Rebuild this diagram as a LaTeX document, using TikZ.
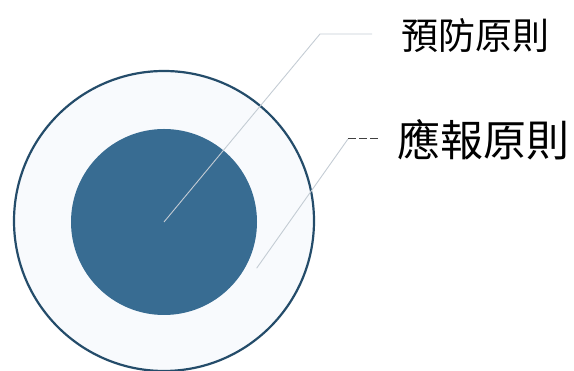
\documentclass[tikz,border=0pt]{standalone}
\usepackage{fontspec}
\newfontfamily\cjk{Noto Sans CJK TC}
\usepackage{tikz}
\usetikzlibrary{positioning, calc}
\definecolor{coreblue}{RGB}{56,108,146}
\definecolor{ringline}{RGB}{36,76,106}
\definecolor{ringfill}{RGB}{248,250,253}
\definecolor{leader}{RGB}{196,204,212}
\tikzset{
    ring/.style={circle, draw=ringline, line width=2.2pt, fill=ringfill, minimum size=300pt, inner sep=0pt},
    core/.style={circle, fill=coreblue, minimum size=186pt, inner sep=0pt},
    leaderline/.style={draw=leader, line width=0.9pt},
    principle/.style={font=\cjk, inner sep=0pt, text=black}
}
\begin{document}
\begin{tikzpicture}[x=1pt, y=1pt]
    \useasboundingbox (0,0) rectangle (574,371);
    \node[ring] (outer) at (164,150) {};
    \node[core] (inner) at (164,149) {};
    \coordinate (k1) at (320,337);
    \coordinate (e1) at (372,337);
    \coordinate (s2) at ($(outer.center)+(-27:104pt)$);
    \coordinate (k2) at (348,232);
    \coordinate (e2) at (380,232);
    \node[principle, font=\cjk\fontsize{37}{37}\selectfont] (prev) at (475,335) {預防原則};
    \node[principle, font=\cjk\fontsize{43}{43}\selectfont] (retri) at (483,231) {應報原則};
    \draw[leaderline] (inner.center) -- (k1) -- (e1);
    \draw[leaderline] (s2) -- (k2);
    \draw[draw=black!75, line width=1pt, dash pattern=on 8pt off 3pt] (k2) -- (e2);
\end{tikzpicture}
\end{document}
